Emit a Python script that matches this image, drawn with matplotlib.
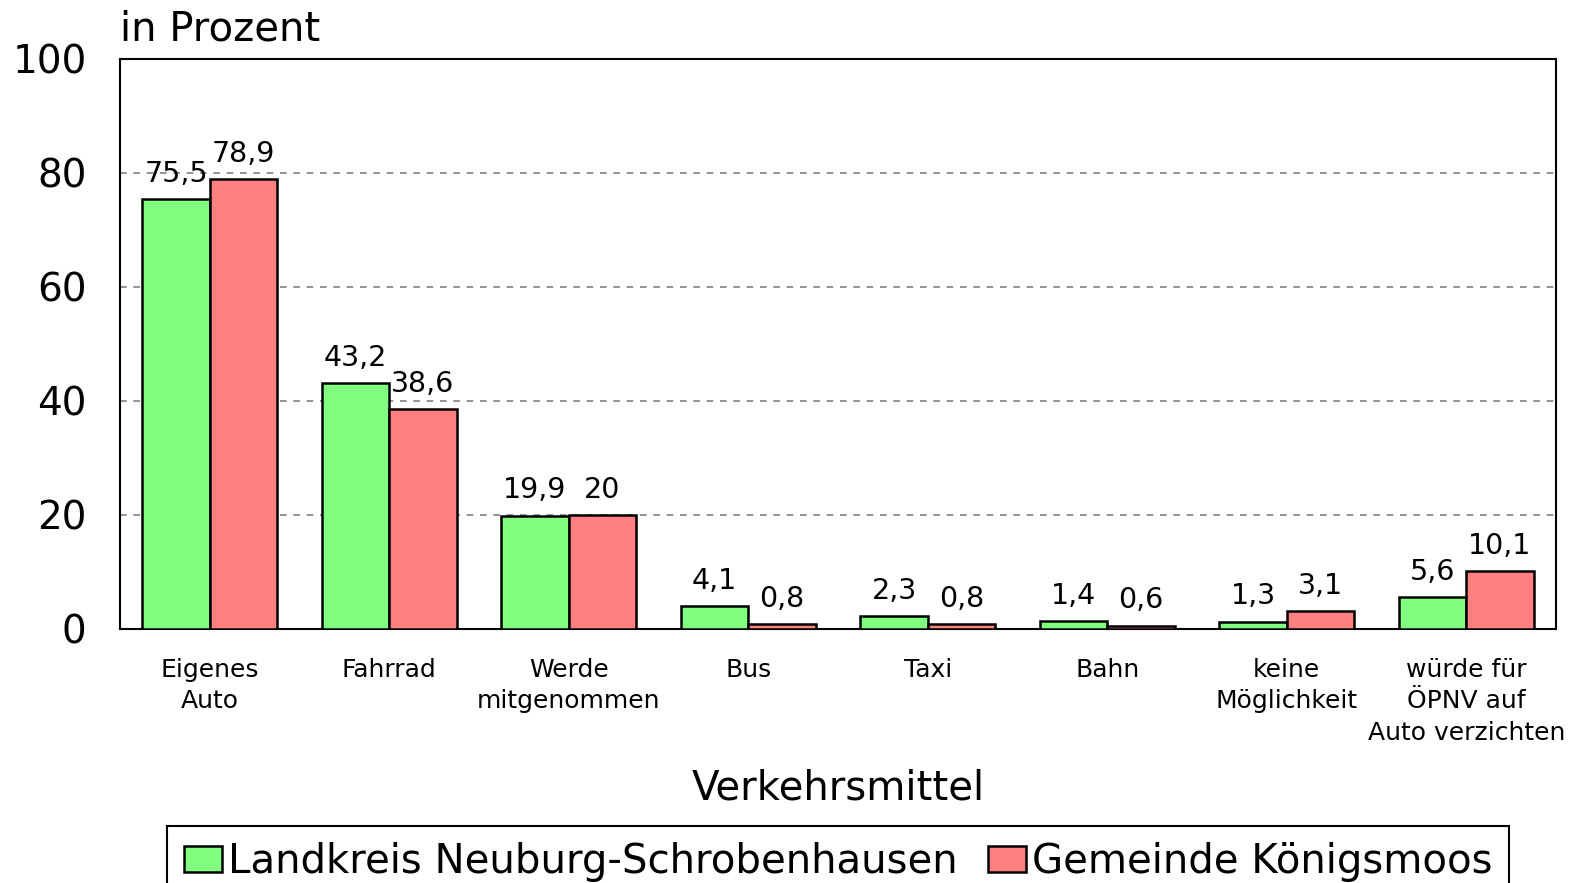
import matplotlib
matplotlib.use("Agg")
import matplotlib.pyplot as plt
import numpy as np

categories = ["Eigenes\nAuto", "Fahrrad", "Werde\nmitgenommen", "Bus", "Taxi", "Bahn",
              "keine\nMöglichkeit", "würde für\nÖPNV auf\nAuto verzichten"]
landkreis = [75.5, 43.2, 19.9, 4.1, 2.3, 1.4, 1.3, 5.6]
gemeinde = [78.9, 38.6, 20.0, 0.8, 0.8, 0.6, 3.1, 10.1]
series_names = ["Landkreis Neuburg-Schrobenhausen", "Gemeinde Königsmoos"]

plt.rcParams['font.family'] = ['DejaVu Sans']

fig = plt.figure(figsize=(15.75, 8.83), dpi=100)
ax = fig.add_axes([120 / 1575, 1 - 629 / 883, 1436 / 1575, 570 / 883])

x = np.arange(len(categories))
w = 0.376
b1 = ax.bar(x - w / 2, landkreis, w, color="#80ff80", edgecolor="black", linewidth=1.8,
            label=series_names[0], zorder=3)
b2 = ax.bar(x + w / 2, gemeinde, w, color="#ff8080", edgecolor="black", linewidth=1.8,
            label=series_names[1], zorder=3)


def fmt(v):
    return f"{v:g}".replace(".", ",")


for bars, vals in ((b1, landkreis), (b2, gemeinde)):
    for rect, v in zip(bars, vals):
        ax.annotate(fmt(v), (rect.get_x() + rect.get_width() / 2, rect.get_height()),
                    xytext=(0, 8), textcoords="offset points", ha="center", va="bottom",
                    fontsize=20.5)

ax.set_xlim(-0.5, len(categories) - 0.5)
ax.set_ylim(0, 100)
ax.set_yticks([0, 20, 40, 60, 80, 100])
ax.set_xticks(x)
ax.set_xticklabels(categories, fontsize=18, linespacing=1.38)
ax.tick_params(axis="y", length=0, labelsize=28, pad=24)
ax.tick_params(axis="x", length=0, pad=21)
for yv in [20, 40, 60, 80]:
    ax.axhline(yv, color="#808080", linestyle=(0, (4, 4)), linewidth=1.2, zorder=1)
for s in ax.spines.values():
    s.set_linewidth(1.5)

ax.text(0.0, 1.033, "in Prozent", transform=ax.transAxes, fontsize=29, ha="left", va="baseline")
fig.text(838 / 1575, 1 - 789 / 883, "Verkehrsmittel", fontsize=29, ha="center", va="center")

leg = ax.legend(loc="upper center", bbox_to_anchor=(0.5, -0.345), ncol=2, fontsize=29,
                frameon=True, fancybox=False, edgecolor="black", framealpha=1,
                handlelength=0.95, handleheight=0.62, handletextpad=0.15,
                columnspacing=0.75, borderpad=0.4, borderaxespad=0)
leg.get_frame().set_linewidth(1.5)

fig.savefig("out.png", dpi=100)
